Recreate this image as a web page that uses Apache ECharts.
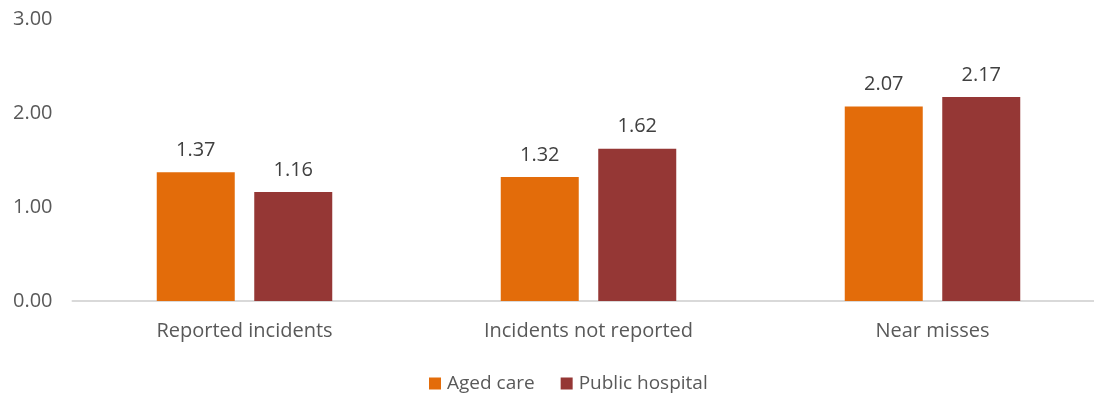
<!DOCTYPE html>
<html>
<head>
<meta charset="utf-8">
<script src="https://cdn.jsdelivr.net/npm/echarts@6/dist/echarts.min.js"></script>
<style>html,body{margin:0;padding:0;background:#fff}#c{width:1094px;height:393px}</style>
</head>
<body>
<div id="c"></div>
<script>
const categories = ["Reported incidents", "Incidents not reported", "Near misses"];
const agedCare = [1.37, 1.32, 2.07];
const publicHospital = [1.16, 1.62, 2.17];
const seriesNames = ["Aged care", "Public hospital"];

const FONT = "'Open Sans', 'Noto Sans', sans-serif";
const chart = echarts.init(document.getElementById('c'), null, {renderer: 'canvas'});
const labelCfg = {show: true, position: 'top', distance: 12, color: '#404040', fontSize: 20, fontFamily: FONT, formatter: p => p.value.toFixed(2)};
chart.setOption({
  animation: false,
  textStyle: {fontFamily: FONT},
  grid: {left: 72.5, top: 19, width: 1032, height: 282, containLabel: false, outerBoundsMode: 'none'},
  legend: {
    data: seriesNames, top: 369, left: 424, itemWidth: 12, itemHeight: 12, itemGap: 26,
    icon: 'rect', textStyle: {color: '#595959', fontSize: 19, fontFamily: FONT, padding: [0, 0, 0, 1]}
  },
  xAxis: {
    type: 'category', data: categories,
    axisLine: {lineStyle: {color: '#d9d9d9', width: 2}},
    axisTick: {show: false},
    axisLabel: {color: '#595959', fontSize: 20, fontFamily: FONT, margin: 20}
  },
  yAxis: {
    type: 'value', min: 0, max: 3, interval: 1,
    axisLine: {show: false}, axisTick: {show: false},
    splitLine: {show: false},
    axisLabel: {color: '#595959', fontSize: 20, fontFamily: FONT, margin: 20, formatter: v => v.toFixed(2)}
  },
  series: [
    {name: seriesNames[0], type: 'bar', data: agedCare, barWidth: 78, barGap: '25%', itemStyle: {color: '#E36C0A'}, label: labelCfg},
    {name: seriesNames[1], type: 'bar', data: publicHospital, barWidth: 78, itemStyle: {color: '#953735'}, label: labelCfg}
  ]
});
</script>
</body>
</html>
